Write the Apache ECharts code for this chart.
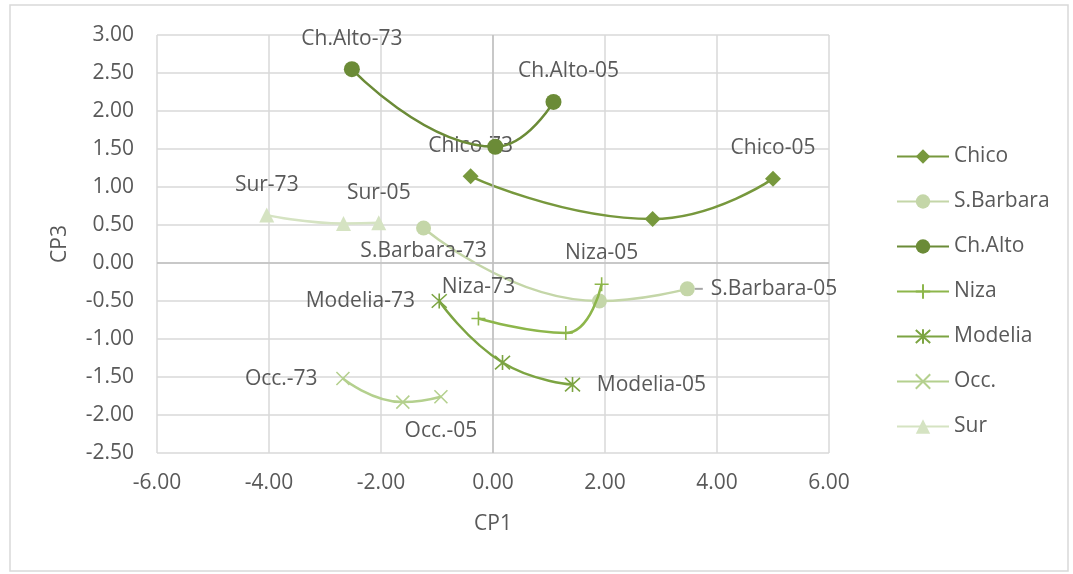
<!DOCTYPE html>
<html>
<head>
<meta charset="utf-8">
<script src="https://cdn.jsdelivr.net/npm/echarts@6/dist/echarts.min.js"></script>
<style>
  html, body { margin: 0; padding: 0; background: #fff; }
  #chart { width: 1073px; height: 574px; }
</style>
</head>
<body>
<div id="chart"></div>
<script>
// series names (legend order = draw order)
const names = ['Chico', 'S.Barbara', 'Ch.Alto', 'Niza', 'Modelia', 'Occ.', 'Sur'];

// CP1 / CP3 coordinates, 1973 -> middle -> 2005
const chicoX = [-0.40, 2.85, 5.00];
const chicoY = [1.14, 0.58, 1.11];
const sbarbaraX = [-1.24, 1.90, 3.47];
const sbarbaraY = [0.46, -0.50, -0.34];
const chaltoX = [-2.52, 0.04, 1.08];
const chaltoY = [2.55, 1.53, 2.12];
const nizaX = [-0.26, 1.30, 1.94];
const nizaY = [-0.73, -0.92, -0.28];
const modeliaX = [-0.96, 0.17, 1.42];
const modeliaY = [-0.50, -1.31, -1.60];
const occX = [-2.68, -1.61, -0.93];
const occY = [-1.52, -1.83, -1.76];
const surX = [-4.04, -2.67, -2.04];
const surY = [0.63, 0.52, 0.53];

const xTicks = [-6, -4, -2, 0, 2, 4, 6];
const yTicks = [-2.5, -2, -1.5, -1, -0.5, 0, 0.5, 1, 1.5, 2, 2.5, 3];

const FONT = 'Open Sans';
const TXT = '#595959';
const FS = 21;

const plusPath = 'path://M10,0L10,20M0,10L20,10';
const xPath = 'path://M0,0L20,20M20,0L0,20';
const starPath = 'path://M1,1L19,19M19,1L1,19M10,0L10,20';

// per series: data, colour, marker, label placement for first / last point
const defs = [
  { x: chicoX, y: chicoY, color: '#77983d', symbol: 'diamond', size: 16,
    first: { position: 'top', distance: 12 }, last: { position: 'top', distance: 12 } },
  { x: sbarbaraX, y: sbarbaraY, color: '#c4d6a8', symbol: 'circle', size: 15,
    first: { position: 'bottom', distance: 5 }, last: { position: 'right', distance: 0, dash: true } },
  { x: chaltoX, y: chaltoY, color: '#6b8b37', symbol: 'circle', size: 16,
    first: { position: 'top', distance: 12 }, last: { position: 'top', distance: 12, offset: [15, 0] } },
  { x: nizaX, y: nizaY, color: '#8db64b', symbol: plusPath, size: 14, stroke: true,
    first: { position: 'top', distance: 13 }, last: { position: 'top', distance: 13 } },
  { x: modeliaX, y: modeliaY, color: '#7ca442', symbol: starPath, size: 15, stroke: true,
    first: { position: 'left', distance: 16 }, last: { position: 'right', distance: 16 } },
  { x: occX, y: occY, color: '#b4d08e', symbol: xPath, size: 13, stroke: true,
    first: { position: 'left', distance: 18 }, last: { position: 'bottom', distance: 16 } },
  { x: surX, y: surY, color: '#d5e3c2', symbol: 'triangle', size: 15,
    first: { position: 'top', distance: 12 }, last: { position: 'top', distance: 12 } }
];

function pointLabel(text, cfg) {
  const lab = {
    show: true,
    position: cfg.position,
    distance: cfg.distance,
    color: TXT,
    fontFamily: FONT,
    fontSize: FS,
    formatter: cfg.dash ? '{d|}{g|}' + text : text,
    rich: {
      d: { width: 8, height: 2, backgroundColor: '#a6a6a6' },
      g: { width: 8 }
    }
  };
  if (cfg.offset) lab.offset = cfg.offset;
  return lab;
}

const series = defs.map(function (d, i) {
  const data = d.x.map(function (xv, k) {
    const item = { value: [xv, d.y[k]] };
    if (k === 0) item.label = pointLabel(names[i] + '-73', d.first);
    if (k === d.x.length - 1) item.label = pointLabel(names[i] + '-05', d.last);
    return item;
  });
  return {
    name: names[i],
    type: 'line',
    smooth: 0.5,
    data: data,
    symbol: d.symbol,
    symbolSize: d.size,
    showAllSymbol: true,
    lineStyle: { color: d.color, width: 2.5 },
    itemStyle: d.stroke
      ? { color: d.color, borderColor: d.color, borderWidth: 1.6 }
      : { color: d.color, borderWidth: 0 },
    label: { show: false },
    emphasis: { disabled: true },
    z: 3 + i
  };
});

// darker zero lines (Excel axis lines crossing at 0)
series.push({
  type: 'line',
  data: [],
  silent: true,
  z: 1,
  markLine: {
    silent: true,
    symbol: 'none',
    label: { show: false },
    lineStyle: { color: '#bfbfbf', width: 1.5, type: 'solid' },
    data: [{ xAxis: 0 }, { yAxis: 0 }]
  }
});

const chart = echarts.init(document.getElementById('chart'), null, { renderer: 'canvas' });
chart.setOption({
  animation: false,
  backgroundColor: '#ffffff',
  graphic: [{
    type: 'rect',
    shape: { x: 10, y: 5, width: 1058, height: 566 },
    style: { fill: 'none', stroke: '#d9d9d9', lineWidth: 1.5 },
    silent: true
  }],
  grid: { left: 157, right: 244, top: 35, bottom: 121 },
  legend: {
    orient: 'vertical',
    left: 891,
    top: 141,
    itemWidth: 52,
    itemHeight: 18,
    itemGap: 24,
    data: names,
    textStyle: { color: TXT, fontFamily: FONT, fontSize: FS }
  },
  xAxis: {
    type: 'value',
    min: xTicks[0],
    max: xTicks[xTicks.length - 1],
    interval: 2,
    name: 'CP1',
    nameLocation: 'middle',
    nameGap: 61,
    nameTextStyle: { color: TXT, fontFamily: FONT, fontSize: FS },
    axisLine: { show: false },
    axisTick: { show: false },
    axisLabel: { color: TXT, fontFamily: FONT, fontSize: FS, margin: 20,
      formatter: function (v) { return v.toFixed(2); } },
    splitLine: { show: true, lineStyle: { color: '#d9d9d9', width: 1.5 } }
  },
  yAxis: {
    type: 'value',
    min: yTicks[0],
    max: yTicks[yTicks.length - 1],
    interval: 0.5,
    name: 'CP3',
    nameLocation: 'middle',
    nameGap: 86,
    nameTextStyle: { color: TXT, fontFamily: FONT, fontSize: FS },
    axisLine: { show: false },
    axisTick: { show: false },
    axisLabel: { color: TXT, fontFamily: FONT, fontSize: FS, margin: 23,
      formatter: function (v) { return v.toFixed(2); } },
    splitLine: { show: true, lineStyle: { color: '#d9d9d9', width: 1.5 } }
  },
  series: series
});
</script>
</body>
</html>
